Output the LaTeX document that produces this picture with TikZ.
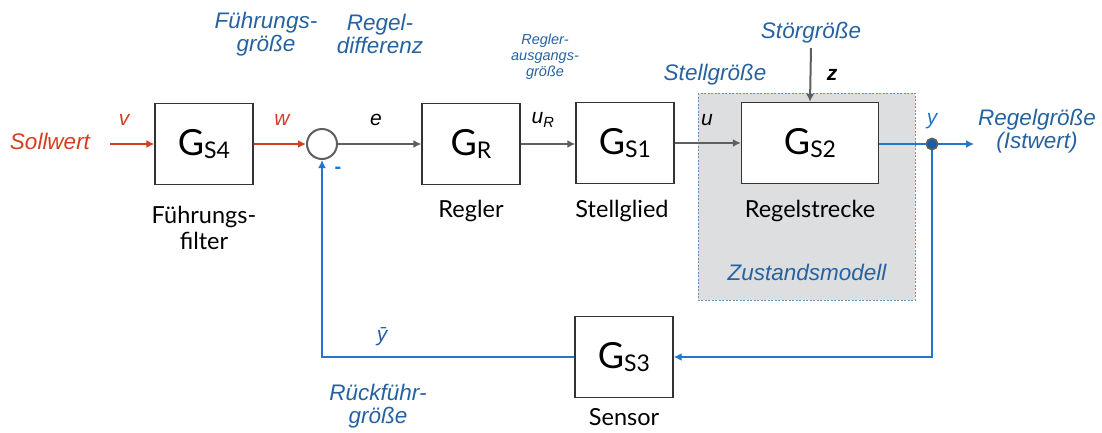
\documentclass[tikz,border=0pt]{standalone}
\usepackage{fontspec}
\setmainfont{Liberation Sans}
\newfontfamily\gill{Lato}
\usetikzlibrary{positioning,arrows.meta}

\definecolor{sollred}{RGB}{212,62,30}
\definecolor{fbblue}{RGB}{35,118,204}
\definecolor{txtblue}{RGB}{38,98,160}
\definecolor{arrgray}{RGB}{95,95,95}
\definecolor{zustgray}{RGB}{221,222,224}

\newcommand{\Gblk}[1]{{\gill\fontsize{36}{36}\selectfont G\raisebox{-3pt}{\fontsize{23}{23}\selectfont #1}}}

\tikzset{
  blk/.style={draw=black!80, line width=1.3, fill=white, minimum width=98, minimum height=81, inner sep=0},
  lbl/.style={font=\gill\fontsize{23.5}{26}\selectfont, align=center, text=black},
  term/.style={font=\itshape\fontsize{22.5}{23}\selectfont, align=center, text=txtblue},
  sig/.style={font=\itshape\fontsize{21}{21}\selectfont},
  wire/.style={line width=2, -{Latex[length=8,width=8]}},
}

\begin{document}
\begin{tikzpicture}[x=1pt,y=-1pt]
        \useasboundingbox (0,0) rectangle (1102,432);
        % Zustandsmodell
        \draw[fill=zustgray, draw=txtblue!70, line width=1, dash pattern=on 2 off 1.5] (698,93) rectangle (915,300);
        \node[term] (zust) at (807,272) {Zustandsmodell};

        % blocks
        \node[blk] (gs4) at (204,144) {\Gblk{S4}};
        \node[circle, draw=arrgray, line width=2, fill=white, minimum size=30, inner sep=0] (sum) at (322,144) {};
        \node[blk] (gr) at (471,144) {\Gblk{R}};
        \node[blk] (gs1) at (625,143) {\Gblk{S1}};
        \node[blk, minimum width=137] (gs2) at (810,143) {\Gblk{S2}};
        \node[blk] (gs3) at (624,357) {\Gblk{S3}};
        \node[circle, fill=fbblue!80!black, draw=arrgray, line width=1.5, minimum size=11, inner sep=0] (dot) at (932,144) {};

        % block names
        \node[lbl] (filter) at (204,228) {Führungs-\\filter};
        \node[lbl] (regler) at (471,211) {Regler};
        \node[lbl] (stellglied) at (622,211) {Stellglied};
        \node[lbl] (strecke) at (810,211) {Regelstrecke};
        \node[lbl] (sensor) at (624,417) {Sensor};

        % names of the signals
        \node[term, text=sollred] (soll) at (50,141) {Sollwert};
        \node[term] (fgr) at (266,34) {Führungs-\\größe};
        \node[term] (rdiff) at (380,34) {Regel-\\differenz};
        \node[term, font=\itshape\fontsize{14.5}{16}\selectfont] (raus) at (545,57) {Regler-\\ausgangs-\\größe};
        \node[term] (stellgr) at (715,75) {Stellgröße};
        \node[term] (stoer) at (811,33) {Störgröße};
        \node[term] (istw) at (1037,131) {Regelgröße\\(Istwert)};
        \node[term] (rueck) at (378,406) {Rückführ-\\größe};

        % signal symbols
        \node[sig, text=sollred] (v) at (124,120) {v};
        \node[sig, text=sollred] (w) at (282,120) {w};
        \node[sig] (e) at (376,120) {e};
        \node[sig] (ur) at (543,120) {u\textsubscript{\itshape R}};
        \node[sig] (u) at (707,120) {u};
        \node[sig, font=\bfseries\itshape\fontsize{21}{21}\selectfont] (z) at (832,75) {z};
        \node[sig, text=fbblue] (y) at (932,121) {y};
        \node[sig, text=txtblue] (ybar) at (382,337) {\={y}};
        \node[font=\bfseries\fontsize{20}{20}\selectfont, text=fbblue] (minus) at (338,170) {-};

        % connectors
        \coordinate (vin) at (110,144);
        \coordinate (zin) at (811,48);
        \coordinate (yout) at (974,144);
        \draw[wire, sollred] (vin) -- (gs4.west);
        \draw[wire, sollred] (gs4.east) -- (sum.west);
        \draw[wire, arrgray] (sum.east) -- (gr.west);
        \draw[wire, arrgray] (gr.east) -- (gs1.west |- gr.east);
        \draw[wire, arrgray] (gs1.east) -- (gs2.west);
        \draw[wire, arrgray] (zin) -- (gs2.north);
        \draw[line width=2, fbblue] (gs2.east |- dot) -- (dot);
        \draw[wire, fbblue] (dot) -- (yout);
        \draw[wire, fbblue] (dot) |- (gs3.east);
        \draw[wire, fbblue] (gs3.west) -| (sum.south);
        \node[circle, fill=fbblue!80!black, draw=arrgray, line width=1.5, minimum size=11, inner sep=0] at (dot) {};
    \end{tikzpicture}
\end{document}
